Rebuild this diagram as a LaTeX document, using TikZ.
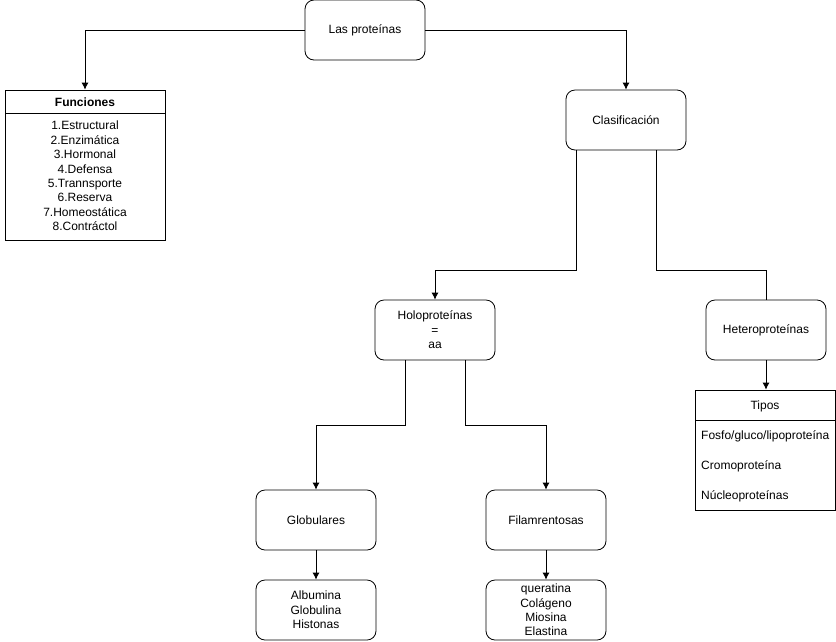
\documentclass[tikz,border=0pt]{standalone}
\usepackage{fontspec}
\setmainfont{Liberation Sans}
\usetikzlibrary{arrows.meta}
\begin{document}
\begin{tikzpicture}[x=1pt,y=-1pt,
  font=\fontsize{12}{14.4}\selectfont,
  rbox/.style={draw,line width=0.8pt,rounded corners=9pt,minimum width=120pt,minimum height=60pt,inner sep=0pt,align=center},
  sbox/.style={draw,line width=0.8pt,inner sep=0pt},
  conn/.style={line width=0.8pt},
  arr/.style={conn,-{Latex[length=7pt,width=7pt]}}]
\useasboundingbox (0,0) rectangle (836,641);
% main nodes
\node[rbox] (lp) at (365,30) {Las proteínas};
\node[rbox] (cl) at (626,120) {Clasificación};
\node[rbox] (holo) at (435,330) {Holoproteínas\\=\\aa};
\node[rbox] (hetero) at (766,330) {Heteroproteínas};
\node[rbox] (glob) at (316,520) {Globulares};
\node[rbox] (fil) at (546,520) {Filamrentosas};
\node[rbox] (alb) at (316,610) {Albumina\\Globulina\\Histonas};
\node[rbox] (quer) at (546,610) {queratina\\Colágeno\\Miosina\\Elastina};
% Funciones
\node[sbox,minimum width=160pt,minimum height=150pt] (fun) at (85,165) {};
\node (funh) at (85,102) {\bfseries Funciones};
\draw[conn] (5,113) -- (165,113);
\node[align=center] (funl) at (85,176) {1.Estructural\\2.Enzimática\\3.Hormonal\\4.Defensa\\5.Trannsporte\\6.Reserva\\7.Homeostática\\8.Contráctol};
% Tipos
\node[sbox,minimum width=140pt,minimum height=120pt] (tip) at (765,450) {};
\node (tiph) at (765,406) {Tipos};
\draw[conn] (695,420) -- (835,420);
\node[anchor=west,inner sep=0pt] (t1) at (701,436) {Fosfo/gluco/lipoproteína};
\node[anchor=west,inner sep=0pt] (t2) at (701,466) {Cromoproteína};
\node[anchor=west,inner sep=0pt] (t3) at (701,496) {Núcleoproteínas};
% connectors
\draw[arr] (lp.west) -| (fun.north);
\draw[arr] (lp.east) -| (cl.north);
\draw[arr] ([xshift=-50pt]cl.south) -- ++(0pt,-120pt) -| (holo.north);
\draw[conn] ([xshift=30pt]cl.south) -- ++(0pt,-120pt) -| (hetero.north);
\draw[arr] (hetero.south) -- (hetero.south |- tip.north);
\draw[arr] ([xshift=-30pt]holo.south) -- ++(0pt,-65pt) -| (glob.north);
\draw[arr] ([xshift=30pt]holo.south) -- ++(0pt,-65pt) -| (fil.north);
\draw[arr] (glob.south) -- (alb.north);
\draw[arr] (fil.south) -- (quer.north);
\end{tikzpicture}
\end{document}
